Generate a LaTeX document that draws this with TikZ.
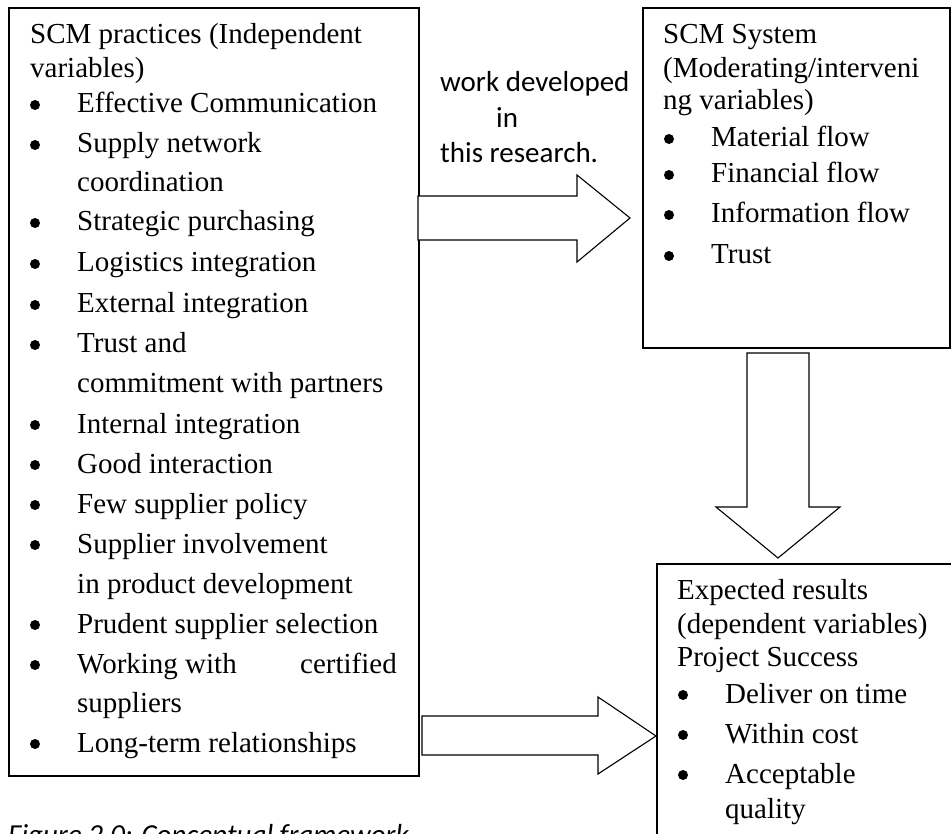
\documentclass[tikz,border=0pt]{standalone}
\usepackage{fontspec}
\setmainfont{Liberation Serif}
\newfontfamily\calibrifont{Carlito}
\begin{document}
\begin{tikzpicture}[x=1pt,y=-1pt,
  box/.style={draw, line width=1.6pt, inner sep=0pt, anchor=north west},
  blockarrow/.style={draw, line width=1.1pt, line join=miter, fill=white},
  txt/.style={anchor=base west, inner sep=0pt, font=\fontsize{29}{33}\selectfont},
  txtr/.style={anchor=base east, inner sep=0pt, font=\fontsize{29}{33}\selectfont},
  sans/.style={anchor=base west, inner sep=0pt, font=\calibrifont\fontsize{29}{35}\selectfont},
  bul/.style={fill=black}
]
\useasboundingbox (0,0) rectangle (951,834);
\clip (0,0) rectangle (951,834);

% boxes
\node[box, minimum width=410pt, minimum height=768pt] (L) at (8,7) {};
\node[box, minimum width=307pt, minimum height=340pt] (S) at (642,7) {};
\node[box, minimum width=330pt, minimum height=330pt] (R) at (656,563) {};

% block arrows (L -> S, S -> R, L -> R)
\draw[blockarrow] (418,196) -- (577,196) -- (577,175) -- (630,218) -- (577,262) -- (577,240) -- (418,240) -- cycle;
\draw[blockarrow] (747,353) -- (809,353) -- (809,507) -- (840,507) -- (778,558) -- (716,507) -- (747,507) -- cycle;
\draw[blockarrow] (422,716) -- (598,716) -- (598,697) -- (656,736) -- (598,774) -- (598,755) -- (422,755) -- cycle;

% left box text
\node[txt] (l1) at (30,44) {SCM practices (Independent};
\node[txt] (l2) at (30,78) {variables)};
\node[txt] (l3) at (77,113) {Effective Communication};
\node[txt] (l4) at (77,153) {Supply network};
\node[txt] (l5) at (77,192) {coordination};
\node[txt] (l6) at (77,231) {Strategic purchasing};
\node[txt] (l7) at (77,272) {Logistics integration};
\node[txt] (l8) at (77,313) {External integration};
\node[txt] (l9) at (77,353) {Trust and};
\node[txt] (l10) at (77,392) {commitment with partners};
\node[txt] (l11) at (77,433) {Internal integration};
\node[txt] (l12) at (77,473) {Good interaction};
\node[txt] (l13) at (77,513) {Few supplier policy};
\node[txt] (l14) at (77,553) {Supplier involvement};
\node[txt] (l15) at (77,593) {in product development};
\node[txt] (l16) at (77,633) {Prudent supplier selection};
\node[txt] (l17) at (77,673) {Working with};
\node[txtr] (l17b) at (397,673) {certified};
\node[txt] (l18) at (77,712) {suppliers};
\node[txt] (l19) at (77,752) {Long-term relationships};
\foreach \yy in {113,153,231,272,313,353,433,473,513,553,633,673,752}
  \fill[bul] (35,\yy-8) circle (5pt);

% middle text
\node[sans] (m1) at (440,92) {work developed};
\node[sans] (m2) at (496,128) {in};
\node[sans] (m3) at (440,163) {this research.};

% SCM system text
\node[txt] (s1) at (663,44) {SCM System};
\node[txt] (s2) at (663,78) {(Moderating/interveni};
\node[txt] (s3) at (663,110) {ng variables)};
\node[txt] (s4) at (711,147) {Material flow};
\node[txt] (s5) at (711,183) {Financial flow};
\node[txt] (s6) at (711,223) {Information flow};
\node[txt] (s7) at (711,264) {Trust};
\foreach \yy in {147,183,223,264}
  \fill[bul] (669,\yy-8) circle (5pt);

% expected results text
\node[txt] (r1) at (677,599) {Expected results};
\node[txt] (r2) at (677,633) {(dependent variables)};
\node[txt] (r3) at (677,666) {Project Success};
\node[txt] (r4) at (725,703) {Deliver on time};
\node[txt] (r5) at (725,743) {Within cost};
\node[txt] (r6) at (725,783) {Acceptable};
\node[txt] (r7) at (725,818) {quality};
\foreach \yy in {703,743,783}
  \fill[bul] (683,\yy-8) circle (5pt);

% caption (cut off at the bottom)
\node[anchor=base west, inner sep=0pt, font=\calibrifont\itshape\fontsize{29}{33}\selectfont] (cap) at (8,844) {Figure 2.0: Conceptual framework};
\end{tikzpicture}
\end{document}
